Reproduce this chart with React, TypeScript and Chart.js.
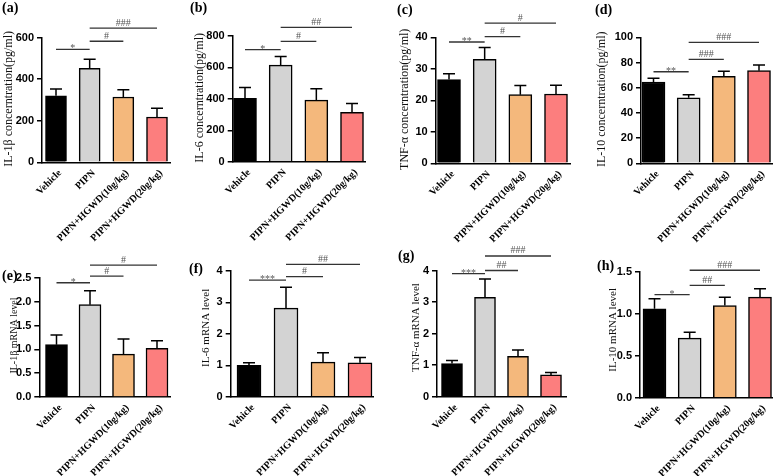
import React, { useEffect, useRef } from 'react';
import { Chart, registerables } from 'chart.js';

Chart.register(...registerables);

// ---------- data ----------
const categories = ['Vehicle', 'PIPN', 'PIPN+HGWD(10g/kg)', 'PIPN+HGWD(20g/kg)'];
const barColors = ['#000000', '#d3d3d3', '#f4b87c', '#fc7e7e'];

const il1bConc = [320, 452, 314, 218];
const il1bConcErr = [32, 43, 35, 42];
const il6Conc = [404, 615, 392, 314];
const il6ConcErr = [69, 55, 72, 57];
const tnfConc = [26.6, 33.0, 21.8, 22.0];
const tnfConcErr = [1.8, 3.8, 2.9, 2.8];
const il10Conc = [64.5, 52, 69, 73.5];
const il10ConcErr = [3, 2.5, 4, 4.5];

const il1bMrna = [1.1, 1.94, 0.9, 1.02];
const il1bMrnaErr = [0.2, 0.29, 0.32, 0.16];
const il6Mrna = [1.0, 2.82, 1.1, 1.08];
const il6MrnaErr = [0.08, 0.66, 0.3, 0.17];
const tnfMrna = [1.05, 3.15, 1.28, 0.69];
const tnfMrnaErr = [0.1, 0.58, 0.2, 0.08];
const il10Mrna = [1.06, 0.71, 1.1, 1.2];
const il10MrnaErr = [0.12, 0.07, 0.1, 0.1];

// significance brackets: [from category, to category, text, height in data units]
type Sig = [number, number, string, number];
const sigA: Sig[] = [[0, 1, '*', 543], [1, 2, '#', 582], [1, 3, '###', 645]];
const sigB: Sig[] = [[0, 1, '*', 713], [1, 2, '#', 766], [1, 3, '##', 855]];
const sigC: Sig[] = [[0, 1, '**', 38.5], [1, 2, '#', 40.2], [1, 3, '#', 44.5]];
const sigD: Sig[] = [[0, 1, '**', 72.7], [1, 2, '###', 82.5], [1, 3, '###', 96]];
const sigE: Sig[] = [[0, 1, '*', 2.4], [1, 2, '#', 2.54], [1, 3, '#', 2.77]];
const sigF: Sig[] = [[0, 1, '***', 3.71], [1, 2, '#', 3.82], [1, 3, '##', 4.21]];
const sigG: Sig[] = [[0, 1, '***', 3.9], [1, 2, '##', 4.0], [1, 3, '###', 4.46]];
const sigH: Sig[] = [[0, 1, '*', 1.23], [1, 2, '##', 1.34], [1, 3, '###', 1.52]];

// ---------- layout ----------
type Panel = {
  tag: string;
  title: string;
  values: number[];
  errors: number[];
  max: number;
  step: number;
  dec: number;
  sig: Sig[];
  left: number;
  top: number;
  h: number;
  x0: number;
  x1: number;
  c0: number;
  c3: number;
  yTop: number;
  yBot: number;
  barW: number;
  titleSize: number;
  titleX: number;
  titleDy: number;
  tagX: number;
  tagY: number;
};

const panels: Panel[] = [
  { tag: '(a)', title: 'IL-1β concerntration(pg/ml)', values: il1bConc, errors: il1bConcErr, max: 600, step: 200, dec: 0, sig: sigA,
    left: 0, top: 0, h: 245, x0: 42, x1: 170, c0: 56, c3: 157, yTop: 37.5, yBot: 162.3, barW: 21, titleSize: 12, titleX: 9, titleDy: -1, tagX: 2, tagY: 1 },
  { tag: '(b)', title: 'IL-6 concerntration(pg/ml)', values: il6Conc, errors: il6ConcErr, max: 800, step: 200, dec: 0, sig: sigB,
    left: 190, top: 0, h: 245, x0: 232.7, x1: 365, c0: 245, c3: 352, yTop: 36, yBot: 161.7, barW: 23, titleSize: 12, titleX: 200, titleDy: -1, tagX: 190, tagY: 1 },
  { tag: '(c)', title: 'TNF-α concerntration(pg/ml)', values: tnfConc, errors: tnfConcErr, max: 40, step: 10, dec: 0, sig: sigC,
    left: 393, top: 0, h: 245, x0: 435.7, x1: 570, c0: 449, c3: 556, yTop: 37.3, yBot: 163.3, barW: 23, titleSize: 12, titleX: 405, titleDy: -1, tagX: 397, tagY: 3 },
  { tag: '(d)', title: 'IL-10 concerntration(pg/ml)', values: il10Conc, errors: il10ConcErr, max: 100, step: 20, dec: 0, sig: sigD,
    left: 590, top: 0, h: 245, x0: 641, x1: 772, c0: 653.5, c3: 759, yTop: 37.3, yBot: 163.3, barW: 23, titleSize: 12, titleX: 602, titleDy: -1, tagX: 595, tagY: 3 },
  { tag: '(e)', title: 'IL-1β mRNA level', values: il1bMrna, errors: il1bMrnaErr, max: 2.5, step: 0.5, dec: 1, sig: sigE,
    left: 3, top: 236, h: 240, x0: 39.3, x1: 170, c0: 56.5, c3: 157, yTop: 278, yBot: 397, barW: 22, titleSize: 10, titleX: 14, titleDy: -2, tagX: 2, tagY: 269 },
  { tag: '(f)', title: 'IL-6 mRNA level', values: il6Mrna, errors: il6MrnaErr, max: 4, step: 1, dec: 0, sig: sigF,
    left: 194, top: 236, h: 240, x0: 230.7, x1: 373, c0: 249, c3: 360, yTop: 271, yBot: 396.7, barW: 24, titleSize: 11, titleX: 206, titleDy: -6, tagX: 189, tagY: 262 },
  { tag: '(g)', title: 'TNF-α mRNA level', values: tnfMrna, errors: tnfMrnaErr, max: 4, step: 1, dec: 0, sig: sigG,
    left: 404, top: 236, h: 240, x0: 437, x1: 566, c0: 452, c3: 551, yTop: 270.5, yBot: 396.7, barW: 21, titleSize: 11, titleX: 416, titleDy: -6, tagX: 398, tagY: 249 },
  { tag: '(h)', title: 'IL-10 mRNA level', values: il10Mrna, errors: il10MrnaErr, max: 1.5, step: 0.5, dec: 1, sig: sigH,
    left: 600, top: 236, h: 240, x0: 640, x1: 772, c0: 654.5, c3: 760, yTop: 272, yBot: 397.7, barW: 23, titleSize: 11, titleX: 613, titleDy: -5, tagX: 597, tagY: 259 },
];

const SERIF = '"Liberation Serif", "Times New Roman", serif';
const SANS = '"Liberation Sans", Arial, sans-serif';

function canvasWidth(p: Panel) {
  return Math.ceil(p.x1 + 8 - p.left);
}

function BarPanel({ p }: { p: Panel }) {
  const ref = useRef<HTMLCanvasElement | null>(null);
  useEffect(() => {
    if (!ref.current) return;
    const w = canvasWidth(p);
    const s = (p.c3 - p.c0) / 3;
    const xMin = -(p.c0 - p.x0) / s;
    const xMax = 3 + (p.x1 - p.c3) / s;

    const overlay = {
      id: 'overlay',
      afterDatasetsDraw(chart: any) {
        const ctx = chart.ctx as CanvasRenderingContext2D;
        const meta = chart.getDatasetMeta(0);
        const ys = chart.scales.y;
        const xs = chart.scales.x;
        const area = chart.chartArea;
        ctx.save();
        // error bars (upper only)
        ctx.strokeStyle = '#000';
        ctx.lineWidth = 1.5;
        p.errors.forEach((e, i) => {
          const el = meta.data[i];
          const x = el.x;
          const yv = ys.getPixelForValue(p.values[i]);
          const ye = ys.getPixelForValue(p.values[i] + e);
          const cap = 6;
          ctx.beginPath();
          ctx.moveTo(x, yv);
          ctx.lineTo(x, ye);
          ctx.moveTo(x - cap, ye);
          ctx.lineTo(x + cap, ye);
          ctx.stroke();
        });
        // significance brackets
        p.sig.forEach(([a, b, t, yv]) => {
          const xa = xs.getPixelForValue(a);
          const xb = xs.getPixelForValue(b);
          const y = ys.getPixelForValue(yv);
          ctx.strokeStyle = '#333';
          ctx.lineWidth = 1.4;
          ctx.beginPath();
          ctx.moveTo(xa, y);
          ctx.lineTo(xb, y);
          ctx.stroke();
          ctx.fillStyle = '#555';
          ctx.font = `10px ${SERIF}`;
          ctx.textAlign = 'center';
          ctx.textBaseline = 'alphabetic';
          const off = t.startsWith('*') ? 2 : -2.5;
          ctx.fillText(t, (xa + xb) / 2, y + off);
        });
        // y-axis title
        ctx.translate(p.titleX - p.left, (area.top + area.bottom) / 2 + p.titleDy);
        ctx.rotate(-Math.PI / 2);
        ctx.fillStyle = '#111';
        ctx.font = `${p.titleSize}px ${SERIF}`;
        ctx.textAlign = 'center';
        ctx.textBaseline = 'middle';
        ctx.fillText(p.title, 0, 0);
        ctx.restore();
      },
    };

    const chart = new Chart(ref.current, {
      type: 'bar',
      data: {
        datasets: [
          {
            data: p.values.map((v, i) => ({ x: i, y: v })) as any,
            backgroundColor: barColors,
            borderColor: '#000',
            borderWidth: 1.5,
            barThickness: p.barW,
          },
        ],
      },
      options: {
        responsive: false,
        animation: false,
        events: [],
        layout: { padding: { top: p.yTop - p.top, right: p.left + w - p.x1, left: 0, bottom: 0 } },
        plugins: { legend: { display: false }, tooltip: { enabled: false } },
        scales: {
          x: {
            type: 'linear',
            min: xMin,
            max: xMax,
            offset: false,
            grid: { display: false, drawTicks: false, tickLength: 0 },
            border: { display: true, color: '#000', width: 1.5 },
            ticks: {
              autoSkip: false,
              maxRotation: 45,
              minRotation: 45,
              padding: 5,
              labelOffset: 4,
              color: '#000',
              font: { family: SERIF, size: 10, weight: 'bold' },
              callback: (v: any) => categories[Number(v)] ?? '',
            },
            afterBuildTicks: (sc: any) => {
              sc.ticks = categories.map((_, i) => ({ value: i }));
            },
            afterFit: (sc: any) => {
              sc.height = p.top + p.h - p.yBot;
            },
          } as any,
          y: {
            min: 0,
            max: p.max,
            ticks: {
              stepSize: p.step,
              padding: 3,
              color: '#000',
              font: { family: SANS, size: 11, weight: 'bold' },
              callback: (v: any) => Number(v).toFixed(p.dec),
            },
            grid: { display: true, drawOnChartArea: false, drawTicks: true, tickLength: 5, color: '#000', lineWidth: 1.5 },
            border: { display: true, color: '#000', width: 1.5 },
            title: { display: false },
            afterFit: (sc: any) => {
              sc.width = p.x0 - p.left;
            },
          } as any,
        },
      },
      plugins: [overlay],
    });
    return () => chart.destroy();
  }, [p]);

  const w = canvasWidth(p);
  return (
    <canvas
      ref={ref}
      width={w}
      height={p.h}
      style={{ position: 'absolute', left: p.left, top: p.top, width: w, height: p.h }}
    />
  );
}

export default function App() {
  return (
    <div
      style={{
        position: 'absolute',
        left: 0,
        top: 0,
        width: 781,
        height: 476,
        background: '#fff',
        overflow: 'hidden',
      }}
    >
      {panels.map((p) => (
        <BarPanel key={p.tag} p={p} />
      ))}
      {panels.map((p) => (
        <div
          key={'t' + p.tag}
          style={{
            position: 'absolute',
            left: p.tagX,
            top: p.tagY,
            font: `bold 14px ${SERIF}`,
            lineHeight: '14px',
            color: '#000',
          }}
        >
          {p.tag}
        </div>
      ))}
    </div>
  );
}
